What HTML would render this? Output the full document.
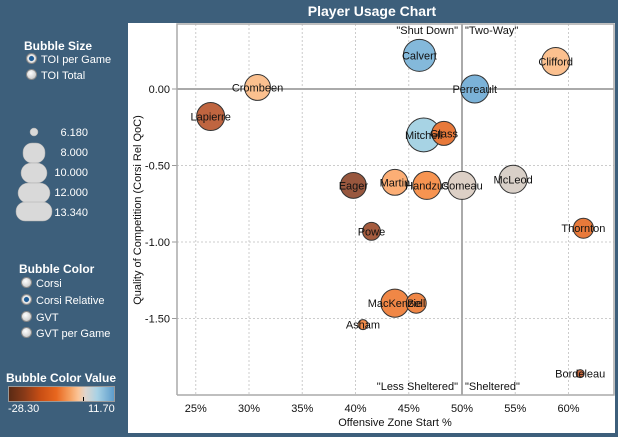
<!DOCTYPE html>
<html><head><meta charset="utf-8">
<style>
body{margin:0;width:618px;height:437px;background:#3d5f7b;font-family:"Liberation Sans",Arial,sans-serif;overflow:hidden;position:relative}
.side{position:absolute;color:#fff;font-size:11px}
.h{font-weight:bold;font-size:12px}
.radio{display:inline-block;width:9px;height:9px;border-radius:50%;background:radial-gradient(circle at 40% 35%,#fff,#bbb);border:1px solid #888;vertical-align:-1px;margin-right:4px}
.radio.on{background:radial-gradient(circle,#1e5c96 0 35%,#eee 45%,#bbb)}
</style></head><body>
<div style="position:absolute;left:272px;top:3px;width:200px;text-align:center;color:#fff;font-weight:bold;font-size:14px">Player Usage Chart</div>

<div class="side h" style="left:24px;top:39px">Bubble Size</div>
<div class="side" style="left:26px;top:53px"><span class="radio on"></span>TOI per Game</div>
<div class="side" style="left:26px;top:69px"><span class="radio"></span>TOI Total</div>

<svg style="position:absolute;left:0;top:120px" width="125" height="105">
<g fill="#d9d9d9" stroke="#aaa" stroke-width="0.5">
<circle cx="34" cy="12" r="4"/>
<rect x="23" y="23" width="22" height="20" rx="9"/>
<rect x="21" y="43" width="26" height="20" rx="10"/>
<rect x="18" y="63" width="32" height="20" rx="10"/>
<rect x="16" y="82" width="36" height="19" rx="9"/>
</g>
<g fill="#fff" font-size="11" text-anchor="end">
<text x="88" y="16">6.180</text><text x="88" y="36">8.000</text><text x="88" y="56">10.000</text><text x="88" y="76">12.000</text><text x="88" y="96">13.340</text>
</g></svg>

<div class="side h" style="left:19px;top:262px">Bubble Color</div>
<div class="side" style="left:21px;top:277px"><span class="radio"></span>Corsi</div>
<div class="side" style="left:21px;top:294px"><span class="radio on"></span>Corsi Relative</div>
<div class="side" style="left:21px;top:311px"><span class="radio"></span>GVT</div>
<div class="side" style="left:21px;top:327px"><span class="radio"></span>GVT per Game</div>

<div class="side h" style="left:6px;top:371px">Bubble Color Value</div>
<div style="position:absolute;left:8px;top:386px;width:105px;height:14px;border:1px solid #999;background:linear-gradient(to right,#5a2a14,#8a3a18 15%,#c84e14 30%,#e8661e 45%,#f5a060 58%,#fbc497 66%,#ddd5cf 73%,#a8d2e5 84%,#5d9ccb)"></div>
<div style="position:absolute;left:83px;top:397px;width:1px;height:4px;background:#000"></div>
<div class="side" style="left:8px;top:403px;font-size:11px">-28.30</div>
<div class="side" style="left:88px;top:403px;font-size:11px">11.70</div>

<div style="position:absolute;left:128px;top:23px;width:487px;height:410px;background:#fff"></div>
<svg id="chart" style="position:absolute;left:0;top:0" width="618" height="437" font-family="Liberation Sans, Arial, sans-serif"></svg>

<script>
const names=["Calvert","Crombeen","Lapierre","Perreault","Clifford","Mitchell","Glass","Eager","Martin","Handzus","Comeau","McLeod","Powe","Thornton","MacKenzie","Bell","Asham","Bordeleau"];
const ozs=[46.0,30.8,26.4,51.2,58.8,46.4,48.3,39.8,43.7,46.7,50.0,54.8,41.5,61.4,43.7,45.7,40.7,61.1];
const qoc=[0.22,0.01,-0.18,0.0,0.18,-0.30,-0.29,-0.63,-0.61,-0.63,-0.63,-0.59,-0.93,-0.91,-1.40,-1.40,-1.54,-1.86];
const toi=[12.8,11.1,11.7,11.7,11.7,13.3,10.6,11.1,11.1,11.7,11.7,11.7,8.9,9.5,11.7,9.5,6.7,6.18];
const corsiRel=[8,-2,-15,9,-2,4,-10,-18,-3,-6,0,0.3,-17,-10,-8,-8,-7,-14];
const xTicks=[25,30,35,40,45,50,55,60];
const yTicks=[0,-0.5,-1,-1.5];
const yTickLabels=["0.00","-0.50","-1.00","-1.50"];

const L=177,R=614,T=24,B=395;
const xs=v=>462+(v-50)*10.65;
const ys=v=>89-v*153;
const rs=t=>4+(t-6.18)/(13.34-6.18)*13;
const stops=[[-28.3,[90,50,35]],[-18,[152,87,62]],[-15,[191,101,64]],[-10,[232,121,58]],[-6,[247,148,81]],[-3,[252,174,117]],[-2,[251,192,143]],[0,[221,208,198]],[4,[167,211,228]],[11.7,[100,160,210]]];
function col(v){for(let i=1;i<stops.length;i++){if(v<=stops[i][0]){const a=stops[i-1],b=stops[i],f=(v-a[0])/(b[0]-a[0]);return 'rgb('+a[1].map((c,k)=>Math.round(c+(b[1][k]-c)*f)).join(',')+')';}}return 'rgb(100,160,210)';}
const svg=document.getElementById('chart');const NS='http://www.w3.org/2000/svg';
function mk(t,a,p){const e=document.createElementNS(NS,t);for(const k in a)e.setAttribute(k,a[k]);(p||svg).appendChild(e);return e;}
xTicks.forEach(v=>{const x=xs(v);
 if(v!==50){const g=mk('line',{x1:x,x2:x,y1:T,y2:B,stroke:'#ccc','stroke-dasharray':'2,2'});
 
 }
 const t=mk('text',{x:x,y:412,'font-size':11,'text-anchor':'middle',fill:'#111'});t.textContent=v+'%';
 
 });
yTicks.forEach((v,i)=>{const y=ys(v);
 if(v!==0){const g=mk('line',{x1:L,x2:R,y1:y,y2:y,stroke:'#ccc','stroke-dasharray':'2,2'});
 
 }
 mk('line',{x1:L-5,x2:L,y1:y,y2:y,stroke:'#999'});
 const t=mk('text',{x:L-7,y:y+4,'font-size':11,'text-anchor':'end',fill:'#111'});t.textContent=yTickLabels[i];
 
 });
mk('polyline',{points:`${L},${B} ${L},${T} ${R},${T} ${R},${B} ${L},${B}`,fill:'none',stroke:'#aaa','stroke-width':1.5});
mk('line',{x1:L,x2:R,y1:ys(0),y2:ys(0),stroke:'#aaa','stroke-width':2});
mk('line',{x1:xs(50),x2:xs(50),y1:T,y2:B,stroke:'#aaa','stroke-width':2});
[["\"Shut Down\"",458,34,'end'],["\"Two-Way\"",465,34,'start'],["\"Less Sheltered\"",458,390,'end'],["\"Sheltered\"",465,390,'start']].forEach(q=>{const t=mk('text',{x:q[1],y:q[2],'font-size':11,'text-anchor':q[3],fill:'#111'});t.textContent=q[0];
 
 });
names.forEach((n,i)=>{const c=mk('circle',{cx:xs(ozs[i]),cy:ys(qoc[i]),r:rs(toi[i]),fill:col(corsiRel[i]),stroke:'#333','stroke-width':1});
 
 });
names.forEach((n,i)=>{const t=mk('text',{x:xs(ozs[i]),y:ys(qoc[i])+4,'font-size':11,'text-anchor':'middle',fill:'#111'});t.textContent=n;
 
 });
const xt=mk('text',{x:395,y:426,'font-size':11,'text-anchor':'middle',fill:'#111'});xt.textContent='Offensive Zone Start %';


const yt=mk('text',{x:0,y:0,'font-size':11,'text-anchor':'middle',fill:'#111',transform:'translate(141,210) rotate(-90)'});yt.textContent='Quality of Competition (Corsi Rel QoC)';


</script>
</body></html>
